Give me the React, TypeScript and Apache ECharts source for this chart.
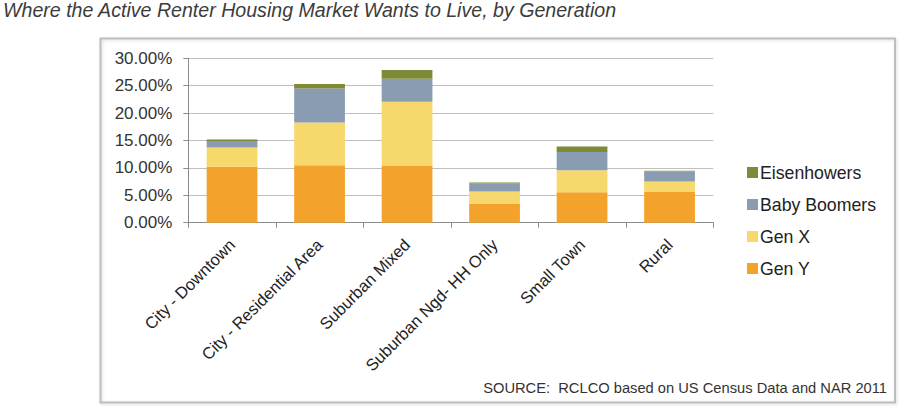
import React, { useEffect, useRef } from "react";
import * as echarts from "echarts";

const categories = [
  "City - Downtown",
  "City - Residential Area",
  "Suburban Mixed",
  "Suburban Ngd- HH Only",
  "Small Town",
  "Rural",
];
const genY = [10.2, 10.5, 10.35, 3.5, 5.55, 5.7];
const genX = [3.5, 7.8, 11.7, 2.2, 4.0, 1.8];
const babyBoomers = [1.2, 6.2, 4.2, 1.5, 3.35, 1.9];
const eisenhowers = [0.3, 0.8, 1.6, 0.15, 1.0, 0.1];
const legendOrder = ["Eisenhowers", "Baby Boomers", "Gen X", "Gen Y"];

const FONT = '"Liberation Sans", Arial, sans-serif';

export default function App() {
  const ref = useRef<HTMLDivElement>(null);
  useEffect(() => {
    if (!ref.current) return;
    const chart = echarts.init(ref.current, undefined, { renderer: "svg" });
    const mk = (name: string, data: number[], color: string) => ({
      name,
      type: "bar",
      stack: "total",
      data,
      barCategoryGap: "42%",
      itemStyle: { color },
      emphasis: { disabled: true },
    });
    chart.setOption({
      animation: false,
      backgroundColor: "#ffffff",
      title: {
        text: "Where the Active Renter Housing Market Wants to Live, by Generation",
        left: 3,
        top: 0,
        padding: 0,
        textStyle: {
          fontFamily: FONT,
          fontStyle: "italic",
          fontWeight: "normal",
          fontSize: 19.6,
          color: "#3c3c3c",
        },
      },
      graphic: [
        {
          type: "rect",
          shape: { x: 100.5, y: 38.5, width: 794.5, height: 364 },
          style: {
            fill: "none",
            stroke: "#bdbdbd",
            lineWidth: 2,
            shadowBlur: 3,
            shadowColor: "rgba(0,0,0,0.15)",
            shadowOffsetX: 1,
            shadowOffsetY: 1,
          },
          silent: true,
          z: -1,
        },
        {
          type: "text",
          x: 887,
          y: 388,
          style: {
            text: "SOURCE:  RCLCO based on US Census Data and NAR 2011",
            fontFamily: FONT,
            fontSize: 14.7,
            fill: "#333333",
            align: "right",
            verticalAlign: "middle",
          },
        },
      ],
      legend: {
        data: legendOrder,
        orient: "vertical",
        left: 742,
        top: 158.5,
        itemWidth: 11,
        itemHeight: 11,
        itemGap: 14,
        icon: "rect",
        textStyle: {
          fontFamily: FONT,
          fontSize: 17.7,
          color: "#222222",
          lineHeight: 17,
          padding: [0, 0, 0, -3],
        },
      },
      grid: { left: 188.3, right: 186.7, top: 58.3, bottom: 186.3 },
      xAxis: {
        type: "category",
        data: categories,
        axisLine: { show: true, lineStyle: { color: "#8c8c8c", width: 1 } },
        axisTick: { show: true, length: 5, lineStyle: { color: "#8c8c8c" } },
        axisLabel: {
          rotate: 45,
          margin: 19,
          fontFamily: FONT,
          fontSize: 16.5,
          color: "#222222",
          interval: 0,
        },
      },
      yAxis: {
        type: "value",
        min: 0,
        max: 30,
        interval: 5,
        axisLine: { show: true, lineStyle: { color: "#8c8c8c", width: 1 } },
        axisTick: { show: true, length: 5, lineStyle: { color: "#8c8c8c" } },
        splitLine: { show: true, lineStyle: { color: "#bfbfbf", width: 1 } },
        axisLabel: {
          formatter: (v: number) => v.toFixed(2) + "%",
          fontFamily: FONT,
          fontSize: 17,
          color: "#333333",
          margin: 16,
        },
      },
      series: [
        mk("Gen Y", genY, "#F3A32B"),
        mk("Gen X", genX, "#F7D86C"),
        mk("Baby Boomers", babyBoomers, "#8A9CB2"),
        mk("Eisenhowers", eisenhowers, "#7E8A37"),
      ],
    });
    return () => chart.dispose();
  }, []);
  return (
    <div
      ref={ref}
      style={{ position: "fixed", left: 0, top: 0, width: 900, height: 409 }}
    />
  );
}
